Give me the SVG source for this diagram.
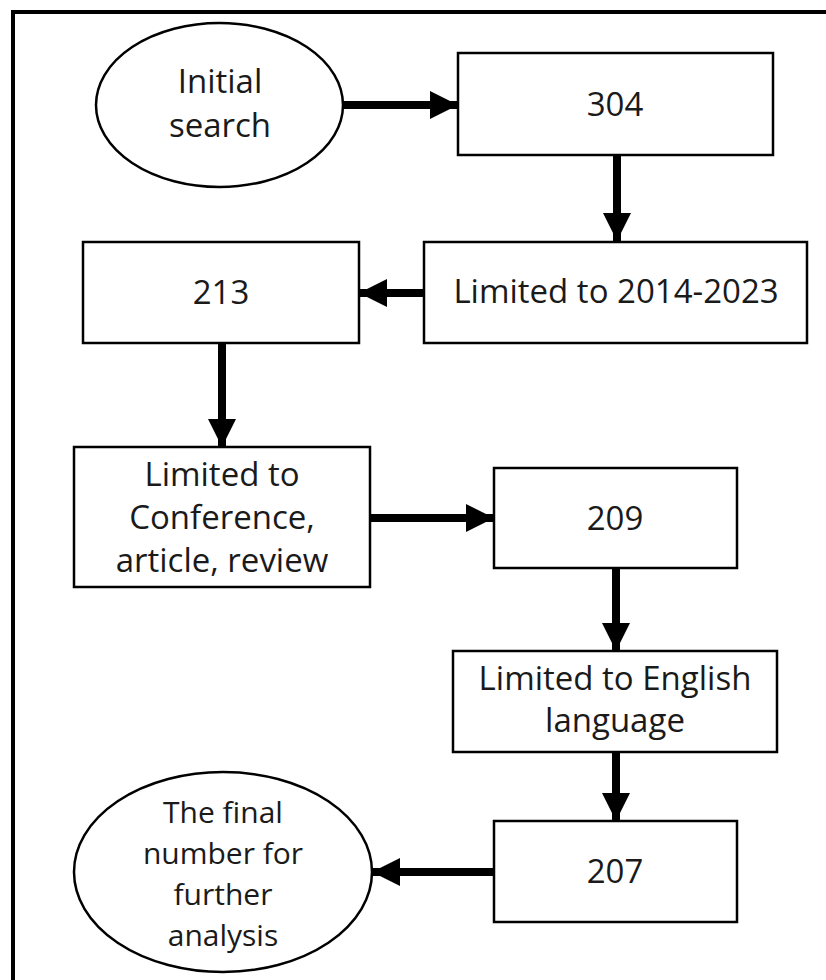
<svg xmlns="http://www.w3.org/2000/svg" width="826" height="980" viewBox="0 0 826 980">
<style>
.box{fill:#fff;stroke:#000;stroke-width:2.5}
.t{font-family:"Open Sans","Liberation Sans",Arial,sans-serif;font-size:33px;fill:#1a1a1a;text-anchor:middle}
.s{font-size:30px}
.ln{stroke:#000;stroke-width:8;fill:none}
</style>
<defs>
<marker id="ah" viewBox="0 0 28 28" refX="28" refY="14" markerWidth="28" markerHeight="28" markerUnits="userSpaceOnUse" orient="auto">
<path d="M0,0 L28,14 L0,28 Z" fill="#000"/>
</marker>
</defs>
<rect x="0" y="0" width="826" height="980" fill="#fff"/>
<rect x="13" y="12" width="830" height="990" fill="none" stroke="#000" stroke-width="4"/>
<g id="connectors">
<line class="ln" x1="343" y1="105" x2="458" y2="105" marker-end="url(#ah)"/>
<line class="ln" x1="617" y1="155" x2="617" y2="241" marker-end="url(#ah)"/>
<line class="ln" x1="424" y1="293" x2="359" y2="293" marker-end="url(#ah)"/>
<line class="ln" x1="222" y1="343" x2="222" y2="447" marker-end="url(#ah)"/>
<line class="ln" x1="370" y1="518" x2="494" y2="518" marker-end="url(#ah)"/>
<line class="ln" x1="616" y1="568" x2="616" y2="651" marker-end="url(#ah)"/>
<line class="ln" x1="616" y1="752" x2="616" y2="821" marker-end="url(#ah)"/>
<line class="ln" x1="494" y1="872" x2="372" y2="872" marker-end="url(#ah)"/>
</g>
<g id="initial">
<ellipse class="box" cx="219.5" cy="105" rx="123.5" ry="82"/>
<text class="t" x="220" y="93">Initial</text>
<text class="t" x="220" y="137">search</text>
</g>
<g id="n304">
<rect class="box" x="458" y="53" width="315" height="102"/>
<text class="t" x="615" y="116">304</text>
</g>
<g id="years">
<rect class="box" x="424" y="242" width="383" height="101"/>
<text class="t" x="616" y="303">Limited to 2014-2023</text>
</g>
<g id="n213">
<rect class="box" x="83" y="242" width="276" height="101"/>
<text class="t" x="221" y="304">213</text>
</g>
<g id="doctype">
<rect class="box" x="74" y="447" width="296" height="140"/>
<text class="t" x="222" y="486">Limited to</text>
<text class="t" x="222" y="529">Conference,</text>
<text class="t" x="222" y="572">article, review</text>
</g>
<g id="n209">
<rect class="box" x="494" y="468" width="243" height="100"/>
<text class="t" x="615" y="530">209</text>
</g>
<g id="english">
<rect class="box" x="453" y="651" width="324" height="101"/>
<text class="t" x="615" y="690">Limited to English</text>
<text class="t" x="615" y="732">language</text>
</g>
<g id="n207">
<rect class="box" x="494" y="821" width="243" height="101"/>
<text class="t" x="615" y="883">207</text>
</g>
<g id="final">
<ellipse class="box" cx="223" cy="872" rx="149" ry="100"/>
<text class="t s" x="223" y="823">The final</text>
<text class="t s" x="223" y="864">number for</text>
<text class="t s" x="223" y="905">further</text>
<text class="t s" x="223" y="946">analysis</text>
</g>
</svg>
